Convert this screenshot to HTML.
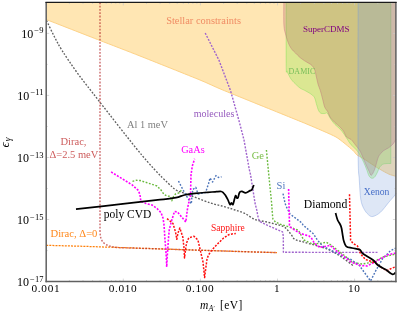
<!DOCTYPE html>
<html><head><meta charset="utf-8"><title>plot</title>
<style>html,body{margin:0;padding:0;background:#fff;width:399px;height:314px;overflow:hidden;font-family:"Liberation Serif",serif}svg text,svg tspan{font-family:"Liberation Serif",serif}</style>
</head><body>
<svg width="399" height="314" viewBox="0 0 399 314" style="position:absolute;left:0;top:0;will-change:transform"><rect width="399" height="314" fill="#fff"/><path d="M46.2 19.5 C51.5 21.6 90.1 36.6 99.5 40.3 C108.9 43.9 129.9 52.0 140.0 56.0 C150.1 60.0 191.7 76.6 200.0 80.0 C208.3 83.4 214.3 86.5 222.8 90.0 C231.3 93.5 276.4 111.7 285.0 115.2 C293.6 118.7 303.9 122.8 309.0 125.0 C314.1 127.2 331.6 134.5 336.0 137.0 C340.4 139.5 350.4 148.2 352.5 150.0 C354.6 151.8 355.9 154.2 357.0 155.0 C358.1 155.8 361.0 157.1 363.0 158.3 C365.0 159.5 374.0 165.7 376.6 167.3 C379.2 168.9 386.7 173.1 388.6 174.0 C390.5 174.9 395.2 176.1 395.9 176.3 L395.9 2.4 L46.2 2.4 Z" fill="rgb(255,230,179)" fill-opacity="1"/><path d="M46.2 19.5 C51.5 21.6 90.1 36.6 99.5 40.3 C108.9 43.9 129.9 52.0 140.0 56.0 C150.1 60.0 191.7 76.6 200.0 80.0 C208.3 83.4 214.3 86.5 222.8 90.0 C231.3 93.5 276.4 111.7 285.0 115.2 C293.6 118.7 303.9 122.8 309.0 125.0 C314.1 127.2 331.6 134.5 336.0 137.0 C340.4 139.5 350.4 148.2 352.5 150.0 C354.6 151.8 355.9 154.2 357.0 155.0 C358.1 155.8 361.0 157.1 363.0 158.3 C365.0 159.5 374.0 165.7 376.6 167.3 C379.2 168.9 386.7 173.1 388.6 174.0 C390.5 174.9 395.2 176.1 395.9 176.3" fill="none" stroke="rgb(253,210,135)" stroke-opacity="1" stroke-width="1"/><path d="M286.2 2.4 C286.2 13.0 286.1 54.6 286.2 66.0 C286.3 77.4 286.6 69.5 287.0 71.0 C287.4 72.5 288.1 73.7 288.8 75.0 C289.5 76.3 290.1 77.8 291.0 79.0 C291.9 80.2 292.5 81.0 294.0 82.5 C295.5 84.0 298.2 86.7 300.0 88.0 C301.8 89.3 302.9 89.4 304.5 90.3 C306.1 91.2 308.2 92.2 309.8 93.3 C311.4 94.4 313.2 95.3 314.3 97.0 C315.4 98.7 315.6 101.2 316.3 103.5 C317.0 105.8 317.8 108.9 318.6 110.5 C319.4 112.1 320.0 112.8 321.0 113.3 C322.0 113.8 323.8 113.5 324.8 113.5 C325.9 113.5 326.3 112.2 327.3 113.2 C328.3 114.2 329.7 117.6 331.0 119.5 C332.3 121.4 333.5 122.9 335.0 124.5 C336.5 126.1 338.5 127.4 340.0 129.0 C341.5 130.6 342.8 132.2 344.0 134.0 C345.2 135.8 346.3 137.7 347.5 139.5 C348.7 141.3 349.4 142.9 351.0 144.7 C352.6 146.5 355.3 148.4 357.0 150.5 C358.7 152.6 359.9 155.0 361.0 157.0 C362.1 159.0 362.9 160.5 363.8 162.5 C364.7 164.5 365.6 166.8 366.5 169.0 C367.4 171.2 368.1 174.2 369.0 175.8 C369.9 177.4 371.0 178.2 372.0 178.3 C373.0 178.4 374.1 177.7 375.0 176.6 C375.9 175.5 376.7 173.6 377.5 172.0 C378.3 170.4 378.8 168.6 379.6 167.3 C380.5 166.0 381.5 164.9 382.6 164.3 C383.7 163.7 384.6 163.7 386.0 163.6 C387.4 163.5 390.0 163.5 390.8 163.5 L390.8 2.4 Z" fill="rgb(111,234,48)" fill-opacity="0.25"/><path d="M286.2 2.4 C286.2 13.0 286.1 54.6 286.2 66.0 C286.3 77.4 286.6 69.5 287.0 71.0 C287.4 72.5 288.1 73.7 288.8 75.0 C289.5 76.3 290.1 77.8 291.0 79.0 C291.9 80.2 292.5 81.0 294.0 82.5 C295.5 84.0 298.2 86.7 300.0 88.0 C301.8 89.3 302.9 89.4 304.5 90.3 C306.1 91.2 308.2 92.2 309.8 93.3 C311.4 94.4 313.2 95.3 314.3 97.0 C315.4 98.7 315.6 101.2 316.3 103.5 C317.0 105.8 317.8 108.9 318.6 110.5 C319.4 112.1 320.0 112.8 321.0 113.3 C322.0 113.8 323.8 113.5 324.8 113.5 C325.9 113.5 326.3 112.2 327.3 113.2 C328.3 114.2 329.7 117.6 331.0 119.5 C332.3 121.4 333.5 122.9 335.0 124.5 C336.5 126.1 338.5 127.4 340.0 129.0 C341.5 130.6 342.8 132.2 344.0 134.0 C345.2 135.8 346.3 137.7 347.5 139.5 C348.7 141.3 349.4 142.9 351.0 144.7 C352.6 146.5 355.3 148.4 357.0 150.5 C358.7 152.6 359.9 155.0 361.0 157.0 C362.1 159.0 362.9 160.5 363.8 162.5 C364.7 164.5 365.6 166.8 366.5 169.0 C367.4 171.2 368.1 174.2 369.0 175.8 C369.9 177.4 371.0 178.2 372.0 178.3 C373.0 178.4 374.1 177.7 375.0 176.6 C375.9 175.5 376.7 173.6 377.5 172.0 C378.3 170.4 378.8 168.6 379.6 167.3 C380.5 166.0 381.5 164.9 382.6 164.3 C383.7 163.7 384.6 163.7 386.0 163.6 C387.4 163.5 390.0 163.5 390.8 163.5" fill="none" stroke="rgb(130,225,90)" stroke-opacity="0.6" stroke-width="0.8"/><line x1="390.8" y1="163.5" x2="390.8" y2="2.4" stroke="rgb(130,225,90)" stroke-opacity="0.6" stroke-width="0.8"/><path d="M283.8 2.4 C283.8 6.2 283.6 19.6 283.9 25.0 C284.2 30.4 285.0 31.8 285.8 35.0 C286.6 38.2 287.8 41.6 288.8 44.0 C289.8 46.4 290.9 48.0 292.0 49.5 C293.1 51.0 294.2 51.7 295.5 53.0 C296.8 54.3 298.5 56.2 300.0 57.5 C301.5 58.8 303.1 59.8 304.6 60.8 C306.1 61.8 307.8 62.6 309.0 63.4 C310.2 64.2 311.0 64.4 312.0 65.5 C313.0 66.6 314.1 68.1 314.8 70.0 C315.5 71.9 315.8 74.5 316.4 77.0 C317.0 79.5 317.6 82.8 318.3 85.0 C319.0 87.2 319.6 88.2 320.3 90.5 C321.0 92.8 321.9 96.2 322.6 99.0 C323.4 101.8 323.9 105.2 324.8 107.3 C325.7 109.4 326.9 110.2 327.8 111.8 C328.7 113.4 328.9 115.2 330.0 117.0 C331.1 118.8 333.0 120.7 334.6 122.3 C336.2 123.9 338.3 125.3 339.8 126.8 C341.3 128.3 342.5 129.6 343.6 131.3 C344.7 133.0 345.4 135.6 346.6 137.0 C347.8 138.4 349.5 138.2 351.0 139.5 C352.5 140.8 354.0 143.1 355.5 145.0 C357.0 146.9 358.6 148.5 360.0 151.0 C361.4 153.5 362.9 157.4 364.0 160.0 C365.1 162.6 366.0 164.7 366.8 166.5 C367.6 168.3 368.2 169.5 369.0 171.0 C369.8 172.5 370.4 175.6 371.3 175.3 C372.2 175.1 373.7 171.7 374.6 169.5 C375.5 167.3 376.1 164.2 376.8 162.0 C377.5 159.8 377.7 157.9 378.8 156.0 C379.9 154.1 381.8 152.2 383.4 150.8 C385.0 149.4 387.0 148.9 388.6 147.8 C390.2 146.7 391.8 145.4 393.0 144.0 C394.2 142.6 395.4 140.2 395.9 139.5 L395.9 2.4 Z" fill="rgb(171,91,87)" fill-opacity="0.25"/><path d="M283.8 2.4 C283.8 6.2 283.6 19.6 283.9 25.0 C284.2 30.4 285.0 31.8 285.8 35.0 C286.6 38.2 287.8 41.6 288.8 44.0 C289.8 46.4 290.9 48.0 292.0 49.5 C293.1 51.0 294.2 51.7 295.5 53.0 C296.8 54.3 298.5 56.2 300.0 57.5 C301.5 58.8 303.1 59.8 304.6 60.8 C306.1 61.8 307.8 62.6 309.0 63.4 C310.2 64.2 311.0 64.4 312.0 65.5 C313.0 66.6 314.1 68.1 314.8 70.0 C315.5 71.9 315.8 74.5 316.4 77.0 C317.0 79.5 317.6 82.8 318.3 85.0 C319.0 87.2 319.6 88.2 320.3 90.5 C321.0 92.8 321.9 96.2 322.6 99.0 C323.4 101.8 323.9 105.2 324.8 107.3 C325.7 109.4 326.9 110.2 327.8 111.8 C328.7 113.4 328.9 115.2 330.0 117.0 C331.1 118.8 333.0 120.7 334.6 122.3 C336.2 123.9 338.3 125.3 339.8 126.8 C341.3 128.3 342.5 129.6 343.6 131.3 C344.7 133.0 345.4 135.6 346.6 137.0 C347.8 138.4 349.5 138.2 351.0 139.5 C352.5 140.8 354.0 143.1 355.5 145.0 C357.0 146.9 358.6 148.5 360.0 151.0 C361.4 153.5 362.9 157.4 364.0 160.0 C365.1 162.6 366.0 164.7 366.8 166.5 C367.6 168.3 368.2 169.5 369.0 171.0 C369.8 172.5 370.4 175.6 371.3 175.3 C372.2 175.1 373.7 171.7 374.6 169.5 C375.5 167.3 376.1 164.2 376.8 162.0 C377.5 159.8 377.7 157.9 378.8 156.0 C379.9 154.1 381.8 152.2 383.4 150.8 C385.0 149.4 387.0 148.9 388.6 147.8 C390.2 146.7 391.8 145.4 393.0 144.0 C394.2 142.6 395.4 140.2 395.9 139.5" fill="none" stroke="rgb(190,100,120)" stroke-opacity="0.5" stroke-width="0.8"/><path d="M358.1 2.4 C358.1 27.0 357.9 120.4 358.1 150.0 C358.3 179.6 358.9 171.8 359.3 180.0 C359.8 188.2 360.1 194.7 360.8 199.5 C361.6 204.3 362.6 206.1 363.8 208.6 C365.1 211.1 366.8 213.3 368.3 214.6 C369.8 215.9 370.8 216.9 372.8 216.5 C374.8 216.1 377.8 214.6 380.4 212.3 C383.0 210.0 386.2 205.4 388.6 202.5 C391.0 199.6 393.8 196.6 395.0 195.0 C396.2 193.4 395.8 193.3 395.9 193.0 L395.9 2.4 Z" fill="rgb(114,153,217)" fill-opacity="0.235"/><path d="M358.1 2.4 C358.1 27.0 357.9 120.4 358.1 150.0 C358.3 179.6 358.9 171.8 359.3 180.0 C359.8 188.2 360.1 194.7 360.8 199.5 C361.6 204.3 362.6 206.1 363.8 208.6 C365.1 211.1 366.8 213.3 368.3 214.6 C369.8 215.9 370.8 216.9 372.8 216.5 C374.8 216.1 377.8 214.6 380.4 212.3 C383.0 210.0 386.2 205.4 388.6 202.5 C391.0 199.6 393.8 196.6 395.0 195.0 C396.2 193.4 395.8 193.3 395.9 193.0" fill="none" stroke="rgb(120,155,220)" stroke-opacity="0.5" stroke-width="0.8"/><g stroke="#c8c8c8" stroke-width="0.7"><line x1="46.2" y1="281.6" x2="46.2" y2="278.6"/><line x1="46.2" y1="2.4" x2="46.2" y2="5.4"/><line x1="69.4" y1="281.6" x2="69.4" y2="280.0"/><line x1="69.4" y1="2.4" x2="69.4" y2="4.0"/><line x1="83.0" y1="281.6" x2="83.0" y2="280.0"/><line x1="83.0" y1="2.4" x2="83.0" y2="4.0"/><line x1="92.6" y1="281.6" x2="92.6" y2="280.0"/><line x1="92.6" y1="2.4" x2="92.6" y2="4.0"/><line x1="100.1" y1="281.6" x2="100.1" y2="280.0"/><line x1="100.1" y1="2.4" x2="100.1" y2="4.0"/><line x1="106.2" y1="281.6" x2="106.2" y2="280.0"/><line x1="106.2" y1="2.4" x2="106.2" y2="4.0"/><line x1="111.4" y1="281.6" x2="111.4" y2="280.0"/><line x1="111.4" y1="2.4" x2="111.4" y2="4.0"/><line x1="115.8" y1="281.6" x2="115.8" y2="280.0"/><line x1="115.8" y1="2.4" x2="115.8" y2="4.0"/><line x1="119.8" y1="281.6" x2="119.8" y2="280.0"/><line x1="119.8" y1="2.4" x2="119.8" y2="4.0"/><line x1="123.3" y1="281.6" x2="123.3" y2="278.6"/><line x1="123.3" y1="2.4" x2="123.3" y2="5.4"/><line x1="146.5" y1="281.6" x2="146.5" y2="280.0"/><line x1="146.5" y1="2.4" x2="146.5" y2="4.0"/><line x1="160.1" y1="281.6" x2="160.1" y2="280.0"/><line x1="160.1" y1="2.4" x2="160.1" y2="4.0"/><line x1="169.7" y1="281.6" x2="169.7" y2="280.0"/><line x1="169.7" y1="2.4" x2="169.7" y2="4.0"/><line x1="177.2" y1="281.6" x2="177.2" y2="280.0"/><line x1="177.2" y1="2.4" x2="177.2" y2="4.0"/><line x1="183.3" y1="281.6" x2="183.3" y2="280.0"/><line x1="183.3" y1="2.4" x2="183.3" y2="4.0"/><line x1="188.5" y1="281.6" x2="188.5" y2="280.0"/><line x1="188.5" y1="2.4" x2="188.5" y2="4.0"/><line x1="192.9" y1="281.6" x2="192.9" y2="280.0"/><line x1="192.9" y1="2.4" x2="192.9" y2="4.0"/><line x1="196.9" y1="281.6" x2="196.9" y2="280.0"/><line x1="196.9" y1="2.4" x2="196.9" y2="4.0"/><line x1="200.4" y1="281.6" x2="200.4" y2="278.6"/><line x1="200.4" y1="2.4" x2="200.4" y2="5.4"/><line x1="223.6" y1="281.6" x2="223.6" y2="280.0"/><line x1="223.6" y1="2.4" x2="223.6" y2="4.0"/><line x1="237.2" y1="281.6" x2="237.2" y2="280.0"/><line x1="237.2" y1="2.4" x2="237.2" y2="4.0"/><line x1="246.8" y1="281.6" x2="246.8" y2="280.0"/><line x1="246.8" y1="2.4" x2="246.8" y2="4.0"/><line x1="254.3" y1="281.6" x2="254.3" y2="280.0"/><line x1="254.3" y1="2.4" x2="254.3" y2="4.0"/><line x1="260.4" y1="281.6" x2="260.4" y2="280.0"/><line x1="260.4" y1="2.4" x2="260.4" y2="4.0"/><line x1="265.6" y1="281.6" x2="265.6" y2="280.0"/><line x1="265.6" y1="2.4" x2="265.6" y2="4.0"/><line x1="270.0" y1="281.6" x2="270.0" y2="280.0"/><line x1="270.0" y1="2.4" x2="270.0" y2="4.0"/><line x1="274.0" y1="281.6" x2="274.0" y2="280.0"/><line x1="274.0" y1="2.4" x2="274.0" y2="4.0"/><line x1="277.5" y1="281.6" x2="277.5" y2="278.6"/><line x1="277.5" y1="2.4" x2="277.5" y2="5.4"/><line x1="300.7" y1="281.6" x2="300.7" y2="280.0"/><line x1="300.7" y1="2.4" x2="300.7" y2="4.0"/><line x1="314.3" y1="281.6" x2="314.3" y2="280.0"/><line x1="314.3" y1="2.4" x2="314.3" y2="4.0"/><line x1="323.9" y1="281.6" x2="323.9" y2="280.0"/><line x1="323.9" y1="2.4" x2="323.9" y2="4.0"/><line x1="331.4" y1="281.6" x2="331.4" y2="280.0"/><line x1="331.4" y1="2.4" x2="331.4" y2="4.0"/><line x1="337.5" y1="281.6" x2="337.5" y2="280.0"/><line x1="337.5" y1="2.4" x2="337.5" y2="4.0"/><line x1="342.7" y1="281.6" x2="342.7" y2="280.0"/><line x1="342.7" y1="2.4" x2="342.7" y2="4.0"/><line x1="347.1" y1="281.6" x2="347.1" y2="280.0"/><line x1="347.1" y1="2.4" x2="347.1" y2="4.0"/><line x1="351.1" y1="281.6" x2="351.1" y2="280.0"/><line x1="351.1" y1="2.4" x2="351.1" y2="4.0"/><line x1="354.6" y1="281.6" x2="354.6" y2="278.6"/><line x1="354.6" y1="2.4" x2="354.6" y2="5.4"/><line x1="377.8" y1="281.6" x2="377.8" y2="280.0"/><line x1="377.8" y1="2.4" x2="377.8" y2="4.0"/><line x1="391.4" y1="281.6" x2="391.4" y2="280.0"/><line x1="391.4" y1="2.4" x2="391.4" y2="4.0"/><line x1="46.2" y1="281.6" x2="49.2" y2="281.6"/><line x1="395.9" y1="281.6" x2="392.9" y2="281.6"/><line x1="46.2" y1="250.6" x2="47.800000000000004" y2="250.6"/><line x1="395.9" y1="250.6" x2="394.29999999999995" y2="250.6"/><line x1="46.2" y1="219.5" x2="49.2" y2="219.5"/><line x1="395.9" y1="219.5" x2="392.9" y2="219.5"/><line x1="46.2" y1="188.5" x2="47.800000000000004" y2="188.5"/><line x1="395.9" y1="188.5" x2="394.29999999999995" y2="188.5"/><line x1="46.2" y1="157.5" x2="49.2" y2="157.5"/><line x1="395.9" y1="157.5" x2="392.9" y2="157.5"/><line x1="46.2" y1="126.5" x2="47.800000000000004" y2="126.5"/><line x1="395.9" y1="126.5" x2="394.29999999999995" y2="126.5"/><line x1="46.2" y1="95.4" x2="49.2" y2="95.4"/><line x1="395.9" y1="95.4" x2="392.9" y2="95.4"/><line x1="46.2" y1="64.4" x2="47.800000000000004" y2="64.4"/><line x1="395.9" y1="64.4" x2="394.29999999999995" y2="64.4"/><line x1="46.2" y1="33.4" x2="49.2" y2="33.4"/><line x1="395.9" y1="33.4" x2="392.9" y2="33.4"/></g><path d="M46.5 20.5 C47.8 23.1 51.4 30.9 54.0 36.0 C56.6 41.0 58.4 44.6 62.3 50.8 C66.2 57.0 71.5 64.9 77.6 73.3 C83.7 81.7 89.3 88.5 99.0 101.0 C108.7 113.5 126.7 136.5 136.0 148.0 C145.3 159.5 149.7 164.2 155.0 170.0 C160.3 175.8 164.5 179.7 168.0 183.0 C171.5 186.3 173.2 188.3 176.0 190.0 C178.8 191.7 178.8 191.2 184.5 193.3 C190.2 195.4 203.2 200.5 210.0 202.8 C216.8 205.0 220.8 205.6 225.0 206.8 C229.2 208.0 231.7 208.9 235.0 210.0 C238.3 211.1 241.7 211.9 245.0 213.5 C248.3 215.1 251.6 218.2 255.0 219.6 C258.4 220.9 261.8 220.8 265.2 221.6 C268.6 222.4 272.3 223.3 275.4 224.2 C278.5 225.0 281.6 225.7 283.6 226.7 C285.7 227.7 286.4 228.9 287.7 230.3 C289.0 231.7 290.3 233.5 291.5 235.0 C292.7 236.5 292.8 238.3 295.0 239.5 C297.2 240.7 299.2 240.7 304.5 242.3 C309.8 243.9 321.1 246.7 327.0 249.0 C332.9 251.3 335.6 253.2 340.0 256.0 C344.4 258.8 351.2 264.3 353.5 266.0" fill="none" stroke="rgb(95,95,95)" stroke-width="1.35" stroke-linejoin="round" stroke-dasharray="1.8 1.6" /><path d="M46.2 245.3 L86.0 246.4 L205.0 250.4 L245.0 251.7 L277.0 252.6" fill="none" stroke="rgb(255,128,10)" stroke-width="1.25" stroke-linejoin="round" stroke-dasharray="2 1.1" /><path d="M100 2.4 L100 231 C100.2 242 103.4 246 118.5 247.6 L205 250.4 L245 251.7 L277 252.6" fill="none" stroke="rgb(180,36,40)" stroke-opacity="0.66" stroke-width="1.45" stroke-dasharray="1.8 1.5"/><path d="M205.2 33.0 L219.0 60.3 L230.3 90.0 L232.9 99.0 L239.2 121.5 L244.0 140.0 L249.2 169.0 L250.6 175.0 L255.0 203.0 L257.0 211.0 L257.6 215.0 L258.6 219.0 L260.0 221.6 L267.2 225.2 L275.4 228.8 L282.5 231.8 L283.3 236.0 L283.4 252.3 L377.5 252.4" fill="none" stroke="rgb(160,100,205)" stroke-width="1.4" stroke-linejoin="round" stroke-dasharray="2 1.35" /><path d="M132.5 181.3 L136.0 180.3 L140.0 180.5 L148.0 183.0 L157.0 186.0 L161.0 190.0 L164.0 194.4 L167.0 196.0 L170.0 196.3 L171.8 200.8 L173.5 196.5 L175.5 194.0 L180.0 192.5 L181.5 189.5" fill="none" stroke="rgb(105,185,60)" stroke-width="1.4" stroke-linejoin="round" stroke-dasharray="1.8 1.6" /><path d="M266.4 150.0 L268.8 175.0 L270.0 187.0 L271.6 203.0 L272.4 214.0 L272.9 219.0 L275.4 222.0 L281.5 224.7 L288.7 226.7 L298.5 230.3 L301.0 235.0 L303.8 240.0 L312.0 243.8 L320.0 243.5 L326.4 242.3 L331.0 245.0 L336.0 249.0 L345.0 256.0 L352.7 262.7 L362.3 264.0 L373.5 262.0 L383.0 257.0 L395.9 254.0" fill="none" stroke="rgb(105,185,60)" stroke-width="1.4" stroke-linejoin="round" stroke-dasharray="1.8 1.6" /><path d="M178.5 181.0 L181.0 186.0 L185.3 194.0 L191.3 203.8 L192.0 196.0 L192.8 189.5 L195.8 187.3 L198.0 194.0 L205.6 192.5 L208.6 183.5 L210.0 178.0 L212.6 182.0 L216.0 175.6 L218.5 177.5 L221.5 176.8" fill="none" stroke="rgb(75,115,185)" stroke-width="1.4" stroke-linejoin="round" stroke-dasharray="1.8 1.6" /><path d="M283.0 193.6 L285.0 203.0 L286.0 206.0 L290.0 214.0 L302.0 223.0 L303.0 225.0 L313.6 234.0 L317.3 240.0 L322.6 246.0 L334.6 252.0 L345.0 257.3 L351.0 259.5 L359.0 265.0 L365.5 274.0 L370.6 281.0 L376.1 270.0 L382.8 258.5 L390.5 250.8 L395.9 248.0" fill="none" stroke="rgb(75,115,185)" stroke-width="1.4" stroke-linejoin="round" stroke-dasharray="1.8 1.6" /><path d="M111.1 171.9 L125.0 180.5 L132.2 184.9 L138.5 190.6 L140.0 195.0 L140.8 201.3 L146.0 203.5 L152.0 205.0 L157.0 208.5 L161.0 212.6 L163.0 218.0 L164.0 224.6 L164.8 237.0 L166.3 257.0 L166.7 267.0 L167.2 257.0 L168.6 237.0 L169.3 229.5 L171.5 221.0 L174.5 211.5 L177.5 212.0 L183.0 218.6 L185.8 222.0 L187.3 210.0 L188.3 204.6 L190.5 195.5 L190.7 187.0 L191.0 175.0 L192.3 166.0 L194.6 158.8" fill="none" stroke="rgb(255,0,255)" stroke-width="1.6" stroke-linejoin="round" stroke-dasharray="2 1.45" /><path d="M288.6 189.0 L289.5 225.2 L291.2 227.8 L295.0 230.3 L300.0 233.3 L309.0 236.0 L311.3 237.8 L314.3 243.0 L319.6 247.3 L325.0 246.5 L330.0 245.3 L337.0 251.3 L345.0 257.3 L351.0 262.0 L360.0 265.5 L367.0 266.0 L376.7 261.0 L388.0 254.7 L395.9 253.0" fill="none" stroke="rgb(255,0,255)" stroke-width="1.6" stroke-linejoin="round" stroke-dasharray="2 1.45" /><path d="M167.0 218.6 L173.0 223.5 L175.5 232.0 L176.8 239.3 L178.0 233.0 L179.8 228.0 L182.8 237.0 L184.0 248.0 L184.5 258.0 L185.5 250.0 L186.5 243.0 L188.8 237.8 L194.0 236.3 L197.9 240.0 L200.0 249.0 L203.0 262.0 L204.6 277.6 L205.8 268.0 L207.0 259.0 L208.5 255.0 L211.6 250.4 L217.2 244.3 L223.4 238.2 L228.5 234.8 L232.0 233.9 L235.8 233.5" fill="none" stroke="rgb(255,15,15)" stroke-width="1.5" stroke-linejoin="round" stroke-dasharray="2 1.4" /><path d="M349.5 194.3 L350.6 240.2 L353.0 243.5 L357.5 246.0 L360.7 254.0 L365.5 259.5 L375.0 262.7 L381.5 267.5 L386.8 270.7 L391.5 268.3 L395.9 266.7" fill="none" stroke="rgb(255,15,15)" stroke-width="1.5" stroke-linejoin="round" stroke-dasharray="2 1.4" /><path d="M76.0 209.1 C84.2 208.2 111.0 205.2 125.0 203.6 C139.0 202.0 151.5 200.6 160.0 199.6 C168.5 198.6 171.9 198.5 176.0 197.7 C180.1 196.9 181.3 195.7 184.5 195.0 C187.7 194.3 191.6 193.8 195.0 193.4 C198.4 193.0 202.2 192.7 205.0 192.5 C207.8 192.3 210.1 192.1 212.0 192.0 C213.9 191.9 215.0 191.8 216.5 191.7 C218.0 191.6 220.1 191.3 221.2 191.5 C222.4 191.7 222.8 192.3 223.5 193.0 C224.2 193.7 224.8 194.4 225.6 195.6 C226.3 196.8 227.3 198.5 228.0 200.0 C228.7 201.5 229.4 204.1 230.0 204.6 C230.6 205.1 231.0 202.8 231.5 202.8 C232.0 202.8 232.4 205.2 232.9 204.6 C233.4 204.0 234.1 200.5 234.5 199.0 C234.9 197.5 235.2 195.8 235.6 195.6 C236.0 195.4 236.5 197.8 236.9 198.1 C237.3 198.4 237.8 198.2 238.1 197.5 C238.4 196.8 238.7 194.9 239.0 194.0 C239.3 193.1 239.5 192.3 240.0 191.9 C240.5 191.5 241.1 191.2 242.0 191.3 C242.9 191.4 244.3 192.9 245.6 192.8 C246.9 192.6 248.9 191.1 250.0 190.6 C251.1 190.1 251.4 190.4 252.0 189.5 C252.6 188.6 253.5 185.8 253.8 185.0" fill="none" stroke="#000" stroke-width="1.75" stroke-linejoin="round" /><path d="M335.6 213.0 C335.9 214.2 336.8 218.1 337.6 220.0 C338.4 221.9 339.5 223.1 340.2 224.5 C340.9 225.9 341.2 226.6 341.6 228.5 C342.0 230.4 342.4 233.9 342.8 236.0 C343.2 238.1 343.2 239.3 343.8 241.0 C344.4 242.7 344.8 245.1 346.2 246.3 C347.6 247.5 349.9 247.5 352.0 248.0 C354.1 248.5 357.5 248.8 359.0 249.3 C360.5 249.8 360.3 250.2 361.0 251.0 C361.7 251.8 361.0 252.3 363.0 253.8 C365.0 255.3 370.5 258.1 373.0 260.0 C375.5 261.9 375.9 263.7 378.0 265.3 C380.1 266.9 383.5 268.3 385.6 269.6 C387.7 270.9 389.3 272.5 390.5 273.3 C391.7 274.1 392.1 274.3 392.7 274.4 C393.3 274.5 393.5 274.2 394.0 273.9 C394.5 273.6 395.2 272.7 395.5 272.5" fill="none" stroke="#000" stroke-width="1.75" stroke-linejoin="round" /><line x1="46.2" y1="1.9" x2="46.2" y2="282.35" stroke="#606060" stroke-width="1.5"/><line x1="395.9" y1="1.9" x2="395.9" y2="282.35" stroke="#606060" stroke-width="1.5"/><line x1="45.45" y1="281.6" x2="396.65" y2="281.6" stroke="#606060" stroke-width="1.5"/><line x1="45.45" y1="2.35" x2="396.65" y2="2.35" stroke="#1a1a1a" stroke-width="1.15"/><text x="166.2" y="24.2" font-size="10.4" fill="rgb(240,140,100)" text-anchor="start" >Stellar constraints</text><text x="303" y="32.2" font-size="9" fill="rgb(128,0,128)" text-anchor="start" >SuperCDMS</text><text x="288.6" y="74.3" font-size="8" fill="rgb(120,190,90)" text-anchor="start" >DAMIC</text><text x="363.8" y="195" font-size="9.6" fill="rgb(70,110,200)" text-anchor="start" >Xenon</text><text x="127" y="127.6" font-size="10.4" fill="rgb(128,128,128)" text-anchor="start" >Al 1 meV</text><text x="193.8" y="117" font-size="10" fill="rgb(150,90,190)" text-anchor="start" >molecules</text><text x="181.2" y="152.8" font-size="10.3" fill="rgb(255,0,255)" text-anchor="start" >GaAs</text><text x="251.7" y="158.5" font-size="10.5" fill="rgb(120,190,70)" text-anchor="start" >Ge</text><text x="276.6" y="189" font-size="10.5" fill="rgb(80,120,190)" text-anchor="start" >Si</text><text x="211" y="231" font-size="9.5" fill="rgb(255,20,20)" text-anchor="start" >Sapphire</text><text x="60.5" y="144.6" font-size="10.5" fill="rgb(205,92,92)" text-anchor="start" >Dirac,</text><text x="49.5" y="157.6" font-size="10.5" fill="rgb(205,92,92)" text-anchor="start" >Δ=2.5 meV</text><text x="50.5" y="237" font-size="10.6" fill="rgb(255,135,25)" text-anchor="start" >Dirac, Δ=0</text><text x="103.75" y="217.8" font-size="11.5" fill="#000" text-anchor="start" >poly CVD</text><text x="303.8" y="208.4" font-size="11.7" fill="#000" text-anchor="start" >Diamond</text><text x="45.9" y="292.4" font-size="11.3" fill="#000" text-anchor="middle" letter-spacing="0.65">0.001</text><text x="123.0" y="292.4" font-size="11.3" fill="#000" text-anchor="middle" letter-spacing="0.65">0.010</text><text x="200.1" y="292.4" font-size="11.3" fill="#000" text-anchor="middle" letter-spacing="0.65">0.100</text><text x="277.2" y="292.4" font-size="11.3" fill="#000" text-anchor="middle" letter-spacing="0.65">1</text><text x="354.3" y="292.4" font-size="11.3" fill="#000" text-anchor="middle" letter-spacing="0.65">10</text><text x="43.4" y="38.0" font-size="12" fill="#000" text-anchor="end">10<tspan font-size="8.5" dy="-4.6" dx="1.1">−9</tspan></text><text x="43.4" y="100.0" font-size="12" fill="#000" text-anchor="end">10<tspan font-size="8.5" dy="-4.6" dx="1.1">−11</tspan></text><text x="43.4" y="162.1" font-size="12" fill="#000" text-anchor="end">10<tspan font-size="8.5" dy="-4.6" dx="1.1">−13</tspan></text><text x="43.4" y="224.1" font-size="12" fill="#000" text-anchor="end">10<tspan font-size="8.5" dy="-4.6" dx="1.1">−15</tspan></text><text x="43.4" y="286.2" font-size="12" fill="#000" text-anchor="end">10<tspan font-size="8.5" dy="-4.6" dx="1.1">−17</tspan></text><text x="200" y="308.8" font-size="11.5" fill="#000" font-style="italic">m</text><text x="208.6" y="311.4" font-size="8" fill="#000" font-style="italic">A<tspan font-size="6" dy="-1" font-style="normal">′</tspan></text><text x="220" y="308.8" font-size="11.5" fill="#000" letter-spacing="0.4">[eV]</text><g transform="translate(9.1,147.5) rotate(-90)"><text x="0" y="0" font-size="13" fill="#000" font-style="italic">ϵ</text><text x="6.3" y="2" font-size="9.5" fill="#000" font-style="italic">γ</text></g></svg>
</body></html>
